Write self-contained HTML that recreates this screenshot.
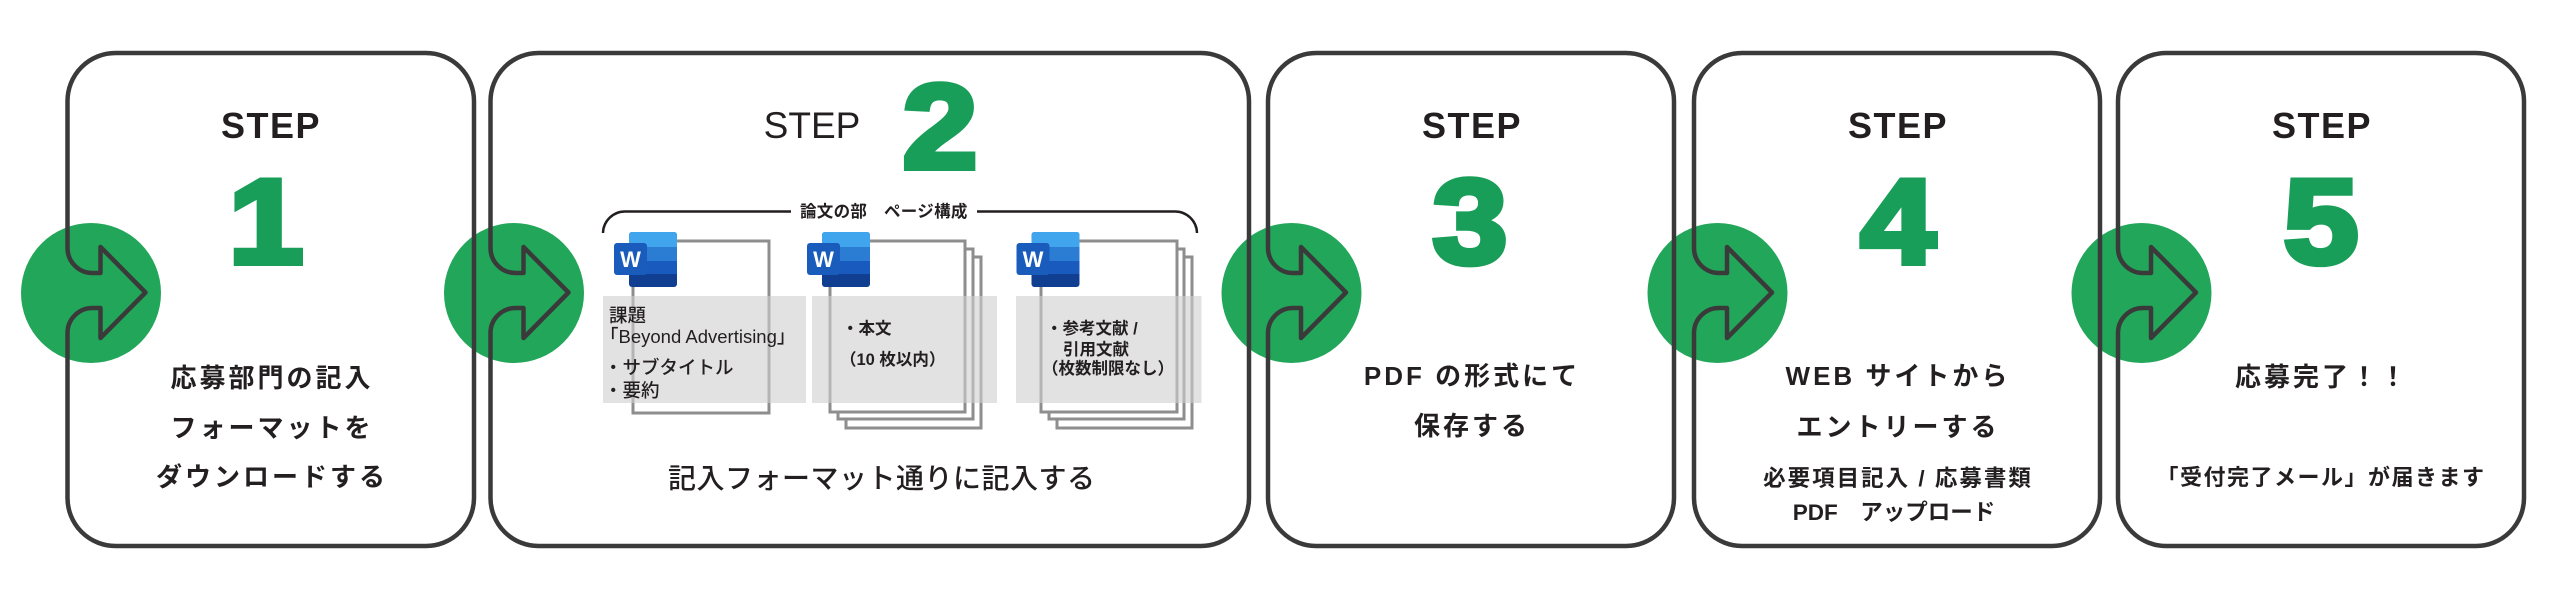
<!DOCTYPE html>
<html>
<head>
<meta charset="utf-8">
<style>
html,body{margin:0;padding:0;background:#fff;width:2560px;height:603px;overflow:hidden;}
svg{display:block;}
.jp{font-family:"Liberation Sans","Noto Sans CJK JP",sans-serif;fill:#231f20;}
.step{font-family:"Liberation Sans",sans-serif;font-weight:bold;font-size:36px;letter-spacing:1.5px;fill:#231f20;}
.num{font-family:"Liberation Sans",sans-serif;font-weight:bold;font-size:120px;fill:#189e58;stroke:#189e58;stroke-width:6;stroke-linejoin:miter;}
.big{font-weight:bold;font-size:26px;letter-spacing:3px;}
.wl{font-family:"Liberation Sans",sans-serif;font-weight:bold;font-size:22px;fill:#fff;}
</style>
</head>
<body>
<svg width="2560" height="603" viewBox="0 0 2560 603" xmlns="http://www.w3.org/2000/svg">
<rect x="0" y="0" width="2560" height="603" fill="#fff"/>

<!-- green circles -->
<g fill="#22a65a">
<circle cx="91" cy="293" r="70"/>
<circle cx="514" cy="293" r="70"/>
<circle cx="1291.5" cy="293" r="70"/>
<circle cx="1717.5" cy="293" r="70"/>
<circle cx="2141.5" cy="293" r="70"/>
</g>

<!-- box borders with arrow notches -->
<g fill="none" stroke="#3a3a3a" stroke-width="4.5" stroke-linejoin="round">
<path d="M115.5,53 H426 A48 48 0 0 1 474,101 V498 A48 48 0 0 1 426,546 H115.5 A48 48 0 0 1 67.5,498 V333 A25 25 0 0 1 92.5,308 H100.5 V338 L145.5,292.5 L100.5,247 V273 H92.5 A25 25 0 0 1 67.5,248 V101 A48 48 0 0 1 115.5,53 Z"/>
<path d="M538.5,53 H1201 A48 48 0 0 1 1249,101 V498 A48 48 0 0 1 1201,546 H538.5 A48 48 0 0 1 490.5,498 V333 A25 25 0 0 1 515.5,308 H523.5 V338 L568.5,292.5 L523.5,247 V273 H515.5 A25 25 0 0 1 490.5,248 V101 A48 48 0 0 1 538.5,53 Z"/>
<path d="M1316,53 H1626 A48 48 0 0 1 1674,101 V498 A48 48 0 0 1 1626,546 H1316 A48 48 0 0 1 1268,498 V333 A25 25 0 0 1 1293,308 H1301 V338 L1346,292.5 L1301,247 V273 H1293 A25 25 0 0 1 1268,248 V101 A48 48 0 0 1 1316,53 Z"/>
<path d="M1742,53 H2052 A48 48 0 0 1 2100,101 V498 A48 48 0 0 1 2052,546 H1742 A48 48 0 0 1 1694,498 V333 A25 25 0 0 1 1719,308 H1727 V338 L1772,292.5 L1727,247 V273 H1719 A25 25 0 0 1 1694,248 V101 A48 48 0 0 1 1742,53 Z"/>
<path d="M2166,53 H2476 A48 48 0 0 1 2524,101 V498 A48 48 0 0 1 2476,546 H2166 A48 48 0 0 1 2118,498 V333 A25 25 0 0 1 2143,308 H2151 V338 L2196,292.5 L2151,247 V273 H2143 A25 25 0 0 1 2118,248 V101 A48 48 0 0 1 2166,53 Z"/>
</g>

<!-- STEP labels -->
<text class="step" x="271" y="138" text-anchor="middle">STEP</text>
<text x="812" y="138" text-anchor="middle" style="font-family:'Liberation Sans',sans-serif;font-size:37px;fill:#231f20;">STEP</text>
<text class="step" x="1472" y="138" text-anchor="middle">STEP</text>
<text class="step" x="1898" y="138" text-anchor="middle">STEP</text>
<text class="step" x="2322" y="138" text-anchor="middle">STEP</text>

<!-- numbers -->
<text class="num" transform="translate(266,263) scale(1.12,1)" x="0" y="0" text-anchor="middle">1</text>
<text class="num" transform="translate(940,168) scale(1.12,1)" x="0" y="0" text-anchor="middle">2</text>
<text class="num" transform="translate(1470,263) scale(1.12,1)" x="0" y="0" text-anchor="middle">3</text>
<text class="num" transform="translate(1898,263) scale(1.12,1)" x="0" y="0" text-anchor="middle">4</text>
<text class="num" transform="translate(2321,263) scale(1.12,1)" x="0" y="0" text-anchor="middle">5</text>

<!-- Box 1 text -->
<g class="jp big" text-anchor="middle">
<text x="272" y="387">応募部門の記入</text>
<text x="272" y="437">フォーマットを</text>
<text x="272" y="486">ダウンロードする</text>
</g>

<!-- Box 3 text -->
<g class="jp big" text-anchor="middle">
<text x="1472" y="385">PDF の形式にて</text>
<text x="1472" y="435">保存する</text>
</g>

<!-- Box 4 text -->
<g class="jp big" text-anchor="middle">
<text x="1898" y="385">WEB サイトから</text>
<text x="1898" y="436">エントリーする</text>
</g>
<text class="jp" x="1898" y="486" text-anchor="middle" style="font-weight:bold;font-size:22.5px;letter-spacing:2px;">必要項目記入 / 応募書類</text>
<text class="jp" x="1894" y="520" text-anchor="middle" style="font-weight:bold;font-size:22.5px;">PDF　アップロード</text>

<!-- Box 5 text -->
<text class="jp big" x="2322" y="386" text-anchor="middle">応募完了！！</text>
<text class="jp" x="2321" y="485" text-anchor="middle" style="font-weight:bold;font-size:22px;letter-spacing:1.5px;">「受付完了メール」が届きます</text>

<!-- Box 2 content -->
<path d="M603,233 A22 22 0 0 1 625,211.5 H791 M977,211.5 H1175 A22 22 0 0 1 1197,233" fill="none" stroke="#231f20" stroke-width="2.5"/>
<text class="jp" x="800" y="217" style="font-weight:bold;font-size:16.5px;letter-spacing:0.3px;">論文の部　ページ構成</text>

<!-- pages -->
<g fill="#fff" stroke="#8e8e8e" stroke-width="3">
<rect x="633" y="241" width="136" height="172"/>
<rect x="846" y="257" width="135" height="171"/>
<rect x="838" y="249" width="135" height="170"/>
<rect x="830" y="241" width="135" height="171"/>
<rect x="1057" y="257" width="135" height="171"/>
<rect x="1049" y="249" width="135" height="170"/>
<rect x="1041" y="241" width="136" height="171"/>
</g>

<!-- word icons -->
<g transform="translate(614,232)">
<rect x="15" y="0" width="48" height="55" rx="3" fill="#103f91"/>
<path d="M15,3 a3,3 0 0 1 3,-3 h42 a3,3 0 0 1 3,3 v12 h-48z" fill="#41a5ee"/>
<rect x="15" y="15" width="48" height="14" fill="#2b7cd3"/>
<rect x="15" y="29" width="48" height="13" fill="#185abd"/>
<rect x="0" y="11" width="33" height="32" rx="3" fill="#1a5cbb"/>
<text class="wl" x="16.5" y="35" text-anchor="middle">W</text>
</g>
<g transform="translate(807,232)">
<rect x="15" y="0" width="48" height="55" rx="3" fill="#103f91"/>
<path d="M15,3 a3,3 0 0 1 3,-3 h42 a3,3 0 0 1 3,3 v12 h-48z" fill="#41a5ee"/>
<rect x="15" y="15" width="48" height="14" fill="#2b7cd3"/>
<rect x="15" y="29" width="48" height="13" fill="#185abd"/>
<rect x="0" y="11" width="33" height="32" rx="3" fill="#1a5cbb"/>
<text class="wl" x="16.5" y="35" text-anchor="middle">W</text>
</g>
<g transform="translate(1016.5,232)">
<rect x="15" y="0" width="48" height="55" rx="3" fill="#103f91"/>
<path d="M15,3 a3,3 0 0 1 3,-3 h42 a3,3 0 0 1 3,3 v12 h-48z" fill="#41a5ee"/>
<rect x="15" y="15" width="48" height="14" fill="#2b7cd3"/>
<rect x="15" y="29" width="48" height="13" fill="#185abd"/>
<rect x="0" y="11" width="33" height="32" rx="3" fill="#1a5cbb"/>
<text class="wl" x="16.5" y="35" text-anchor="middle">W</text>
</g>

<!-- gray overlays -->
<g fill="#cfcfd1" fill-opacity="0.6">
<rect x="603" y="296" width="203" height="107"/>
<rect x="812" y="296" width="185" height="107"/>
<rect x="1016" y="296" width="185.5" height="107"/>
</g>

<!-- doc texts -->
<g class="jp" style="font-weight:500;font-size:18.5px;">
<text x="609" y="322">課題</text>
<text x="600" y="343">「Beyond Advertising」</text>
<text x="604" y="374">・サブタイトル</text>
<text x="604" y="397">・要約</text>
</g>
<g class="jp" style="font-weight:bold;font-size:16.5px;">
<text x="842" y="334">・本文</text>
<text x="840" y="365">（10 枚以内）</text>
<text x="1046" y="334">・参考文献 /</text>
<text x="1063" y="355">引用文献</text>
<text x="1042" y="374">（枚数制限なし）</text>
</g>

<text class="jp" x="668" y="488" style="font-weight:500;font-size:28px;letter-spacing:0.5px;">記入フォーマット通りに記入する</text>
</svg>
</body>
</html>
